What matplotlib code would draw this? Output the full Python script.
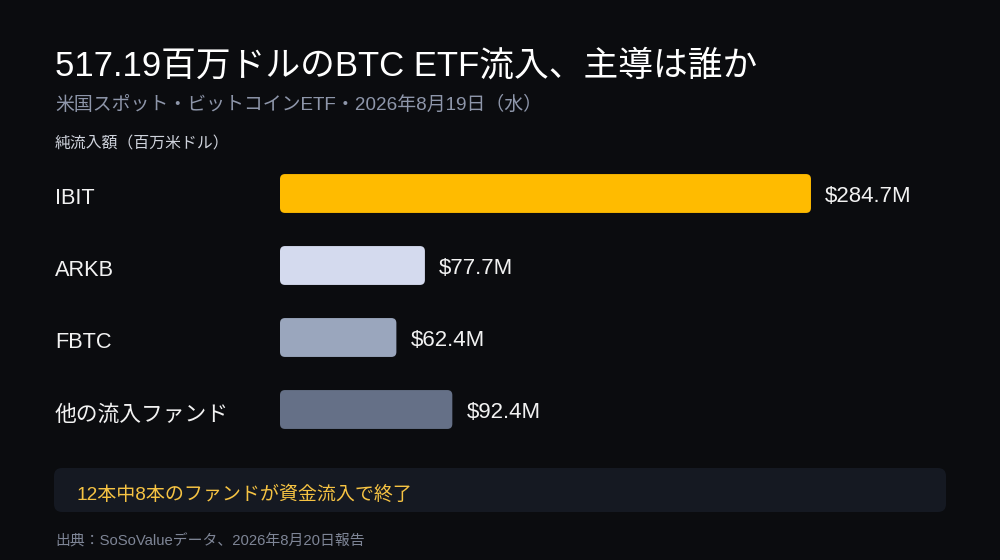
import matplotlib.pyplot as plt
import matplotlib as mpl
from matplotlib.patches import FancyBboxPatch
from matplotlib.transforms import blended_transform_factory

mpl.rcParams['font.family'] = ['Liberation Sans', 'Noto Sans CJK JP', 'DejaVu Sans']

# data
funds = ['IBIT', 'ARKB', 'FBTC', '他の流入ファンド']
inflows = [284.7, 77.7, 62.4, 92.4]
value_labels = ['$284.7M', '$77.7M', '$62.4M', '$92.4M']
bar_colors = ['#FFBB00', '#D4DAEE', '#9AA6BD', '#657087']

title = '517.19百万ドルのBTC ETF流入、主導は誰か'
subtitle = '米国スポット・ビットコインETF・2026年8月19日（水）'
axis_note = '純流入額（百万米ドル）'
callout = '12本中8本のファンドが資金流入で終了'
source = '出典：SoSoValueデータ、2026年8月20日報告'

bg = '#0B0C0F'
W, H = 1000, 560

fig = plt.figure(figsize=(10, 5.6), dpi=100, facecolor=bg)

def fy(px):
    return 1 - px / H

ax = fig.add_axes([0.28, fy(445.5), 0.66, 288 / H])
ax.set_facecolor(bg)
ax.set_xlim(0, 660 / 1.865)
ax.set_ylim(3.5, -0.5)
ax.axis('off')

bars = ax.barh(range(len(funds)), inflows, height=0.54, color=bar_colors)
# swap plain bars for rounded ones
x_per_px = (660 / 1.865) / 660
y_per_px = 4 / 288
r = 5 * x_per_px
for b, c in zip(bars, bar_colors):
    x, y, w, h = b.get_x(), b.get_y(), b.get_width(), b.get_height()
    b.remove()
    ax.add_patch(FancyBboxPatch((x, y), w, h,
                                boxstyle=f'round,pad=0,rounding_size={r}',
                                mutation_aspect=y_per_px / x_per_px,
                                facecolor=c, edgecolor='none'))

for i, (v, lab) in enumerate(zip(inflows, value_labels)):
    ax.annotate(lab, (v, i), xytext=(14 * 0.72, -2.5 * 0.72), textcoords='offset points',
                va='center', ha='left', color='#F2F2F2', fontsize=16)

tr = blended_transform_factory(fig.transFigure, ax.transData)
for i, name in enumerate(funds):
    ax.annotate(name, (0.055, i), xycoords=tr, xytext=(0, -5.5 * 0.72),
                textcoords='offset points', va='center', ha='left',
                color='#F2F2F2', fontsize=15.7)

fig.text(0.055, fy(66), title, color='#FFFFFF', fontsize=25, va='center', ha='left')
fig.text(0.055, fy(104.5), subtitle, color='#8E96AA', fontsize=13.6, va='center', ha='left')
fig.text(0.055, fy(143.5), axis_note, color='#CFD3DC', fontsize=11.4, va='center', ha='left')

box = FancyBboxPatch((0.054, fy(512)), 0.892, 44 / H,
                     boxstyle='round,pad=0,rounding_size=0.008',
                     mutation_aspect=W / H, transform=fig.transFigure,
                     facecolor='#151922', edgecolor='none')
fig.patches.append(box)
fig.text(0.077, fy(494.5), callout, color='#F6C343', fontsize=13.7, va='center', ha='left')
fig.text(0.055, fy(541.5), source, color='#7E8596', fontsize=10.7, va='center', ha='left')

fig.savefig('out.png', dpi=100, facecolor=bg)
